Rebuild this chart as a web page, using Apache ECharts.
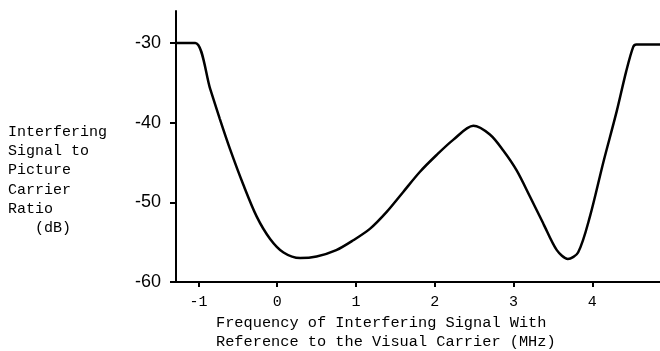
<!DOCTYPE html>
<html>
<head>
<meta charset="utf-8">
<script src="https://cdn.jsdelivr.net/npm/echarts@6/dist/echarts.min.js"></script>
<style>
html,body{margin:0;padding:0;background:#fff;}
#c{width:660px;height:351px;}
</style>
</head>
<body>
<div id="c"></div>
<script>
// Frequency (MHz) relative to the visual carrier
const freq = [-1.285, -1.04, -0.85, -0.73, -0.60, -0.43, -0.26, -0.09, 0.08, 0.29, 0.50, 0.75, 0.96, 1.18, 1.39, 1.60, 1.81, 2.02, 2.23, 2.49, 2.70, 2.87, 3.04, 3.21, 3.38, 3.55, 3.69, 3.82, 3.97, 4.14, 4.31, 4.43, 4.52, 4.56, 4.86];
// Interfering signal to picture carrier ratio (dB)
const ratio = [-30, -30, -35.8, -39.5, -43.3, -47.8, -51.8, -54.6, -56.3, -57.0, -56.8, -56.0, -54.8, -53.3, -51.2, -48.7, -46.2, -44.1, -42.2, -40.4, -41.5, -43.5, -46.0, -49.3, -52.7, -56.0, -57.1, -56.3, -51.8, -45.0, -38.6, -33.6, -30.5, -30.2, -30.2];
const xTicks = [-1, 0, 1, 2, 3, 4];
const yTicks = [-60, -50, -40, -30];
const yTitle = "Interfering\nSignal to\nPicture\nCarrier\nRatio\n   (dB)";
const xTitle = "Frequency of Interfering Signal With\nReference to the Visual Carrier (MHz)";

const FONT = "Liberation Mono";
const chart = echarts.init(document.getElementById('c'));
chart.setOption({
  animation: false,
  backgroundColor: '#fff',
  grid: {left: 176, right: 0, top: 11, bottom: 69},
  xAxis: {
    type: 'value', min: -1.285, max: 4.86,
    splitLine: {show: false},
    axisLine: {show: true, onZero: false, lineStyle: {color: '#000', width: 2}},
    axisTick: {show: true, customValues: xTicks, length: 5, lineStyle: {color: '#000', width: 2}},
    axisLabel: {customValues: xTicks, color: '#000', fontFamily: FONT, fontSize: 15, margin: 13}
  },
  yAxis: {
    type: 'value', min: -60, max: -26,
    splitLine: {show: false},
    axisLine: {show: true, onZero: false, lineStyle: {color: '#000', width: 2}},
    axisTick: {show: true, customValues: yTicks, length: 6, lineStyle: {color: '#000', width: 2}},
    axisLabel: {customValues: yTicks, color: '#000', fontFamily: 'Liberation Sans', fontSize: 18, margin: 15}
  },
  graphic: [
    {type: 'text', left: 8, top: 122, style: {text: yTitle, fill: '#000', font: '15px "Liberation Mono"', lineHeight: 19.3}},
    {type: 'text', left: 216, top: 314, style: {text: xTitle, fill: '#000', font: '15.3px "Liberation Mono"', lineHeight: 18.5}}
  ],
  series: [{
    type: 'line',
    data: freq.map((f, i) => [f, ratio[i]]),
    showSymbol: false,
    smooth: 0.3,
    lineStyle: {color: '#000', width: 2.5}
  }]
});
</script>
</body>
</html>
